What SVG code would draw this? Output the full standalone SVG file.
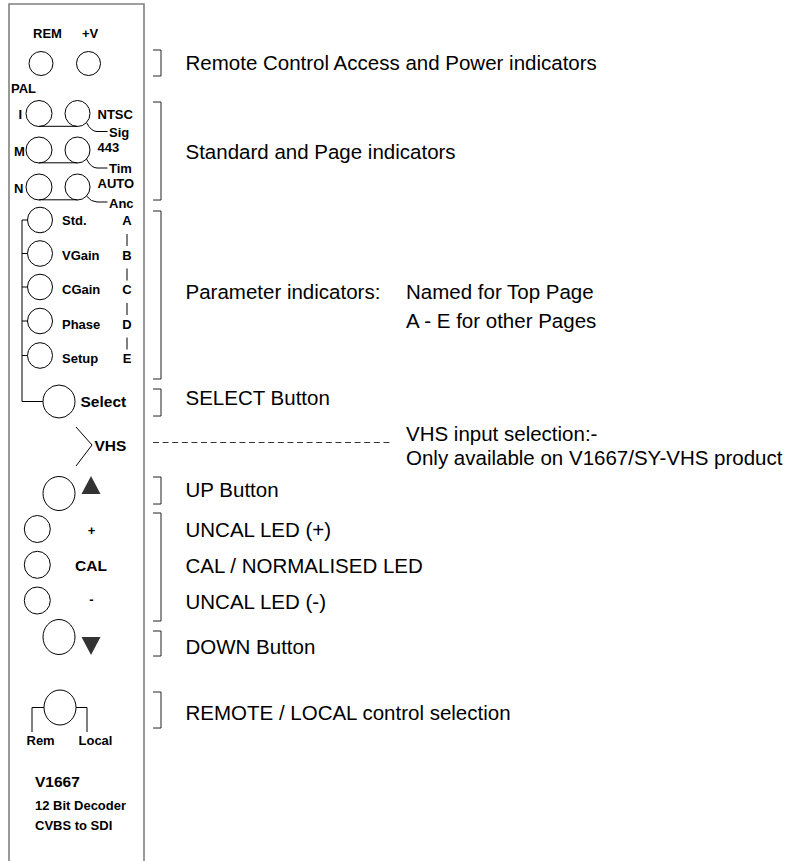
<svg xmlns="http://www.w3.org/2000/svg" width="785" height="861" viewBox="0 0 785 861">
<style>
.bg{fill:#fff}
.panel{fill:none;stroke:#808080;stroke-width:1.6}
.led{fill:#fff;stroke:#000;stroke-width:1}
.ln{fill:none;stroke:#000;stroke-width:1}
.br{fill:none;stroke:#222;stroke-width:1}
.dash{fill:none;stroke:#333;stroke-width:1;stroke-dasharray:6 3.6}
.tri{fill:#333;stroke:none}
.b{font-family:"Liberation Sans",Arial,sans-serif;font-weight:bold;font-size:13px;fill:#000}
.bl{font-family:"Liberation Sans",Arial,sans-serif;font-weight:bold;font-size:15.5px;fill:#000}
.t{font-family:"Liberation Sans",Arial,sans-serif;font-size:20.5px;fill:#000}
.m{text-anchor:middle}
</style>
<rect class="bg" x="0" y="0" width="785" height="861"/>
<path id="panel" class="panel" d="M9,861 V4 H144 V861"/>

<g id="rem-pwr">
  <text class="b" x="33" y="38">REM</text>
  <text class="b" x="82" y="38">+V</text>
  <ellipse class="led" cx="41" cy="63.5" rx="12" ry="12"/>
  <ellipse class="led" cx="88.5" cy="63.5" rx="12" ry="12"/>
</g>

<g id="std-page">
  <text class="b" x="11" y="92.5">PAL</text>
  <ellipse class="led" cx="39" cy="113.5" rx="13" ry="13"/>
  <ellipse class="led" cx="77.5" cy="113.5" rx="12.5" ry="13"/>
  <text class="b" x="18.5" y="119">I</text>
  <text class="b" x="97.5" y="118.5">NTSC</text>
  <text class="b" x="109" y="137">Sig</text>
  <ellipse class="led" cx="39" cy="150" rx="13" ry="13"/>
  <ellipse class="led" cx="77.5" cy="150" rx="12.5" ry="13"/>
  <text class="b" x="14" y="156">M</text>
  <text class="b" x="97.5" y="152">443</text>
  <text class="b" x="109" y="173">Tim</text>
  <ellipse class="led" cx="39" cy="187" rx="13" ry="13"/>
  <ellipse class="led" cx="77.5" cy="187" rx="12.5" ry="13"/>
  <text class="b" x="14" y="193">N</text>
  <text class="b" x="97.5" y="188">AUTO</text>
  <text class="b" x="109" y="208">Anc</text>
</g>

<g id="params">
  <ellipse class="led" cx="40" cy="220" rx="12.5" ry="12.8"/>
  <ellipse class="led" cx="40" cy="253.5" rx="12.5" ry="12.8"/>
  <ellipse class="led" cx="40" cy="287" rx="12.5" ry="12.8"/>
  <ellipse class="led" cx="40" cy="321" rx="12.5" ry="12.8"/>
  <ellipse class="led" cx="40" cy="355.5" rx="12.5" ry="12.8"/>
  <text class="b" x="62" y="225">Std.</text>
  <text class="b" x="62" y="259.5">VGain</text>
  <text class="b" x="62" y="294">CGain</text>
  <text class="b" x="62" y="328.5">Phase</text>
  <text class="b" x="62" y="363">Setup</text>
  <text class="b m" x="127" y="225">A</text>
  <text class="b m" x="127" y="259.5">B</text>
  <text class="b m" x="127" y="294">C</text>
  <text class="b m" x="127" y="328.5">D</text>
  <text class="b m" x="127" y="363">E</text>
</g>

<g id="select">
  <ellipse class="led" cx="59" cy="401.5" rx="16" ry="16.5"/>
  <text class="bl" x="80.5" y="407">Select</text>
</g>

<g id="vhs">
  <text class="bl" x="94.5" y="451">VHS</text>
</g>

<g id="up">
  <ellipse class="led" cx="59" cy="493.5" rx="16" ry="17"/>
  <polygon class="tri" points="91,476 100.5,494 81.5,494"/>
</g>

<g id="cal">
  <ellipse class="led" cx="37.3" cy="529" rx="13" ry="13.5"/>
  <ellipse class="led" cx="37.3" cy="564.8" rx="13" ry="13.5"/>
  <ellipse class="led" cx="37.3" cy="600.5" rx="13" ry="13.5"/>
  <text class="b m" x="91.5" y="535">+</text>
  <text class="bl m" x="91" y="571">CAL</text>
  <text class="b m" x="91.3" y="603.5">-</text>
</g>

<g id="down">
  <ellipse class="led" cx="59" cy="637" rx="16" ry="17.5"/>
  <polygon class="tri" points="81.5,637 100.5,637 91,655"/>
</g>

<g id="rem-local">
  <ellipse class="led" cx="60" cy="707.5" rx="16" ry="17.5"/>
  <text class="b" x="26.5" y="745">Rem</text>
  <text class="b" x="78.5" y="745">Local</text>
</g>

<g id="product">
  <text class="bl" x="35" y="786.5">V1667</text>
  <text class="b" x="35" y="810">12 Bit Decoder</text>
  <text class="b" x="35" y="830">CVBS to SDI</text>
</g>

<g id="connectors">
  <path class="ln" d="M39,126.3 H77.5 M39,162.8 H77.5 M39,199.8 H77.5"/>
  <path class="ln" d="M86.5,122.5 Q91,131.5 97,131.5 H107.5"/>
  <path class="ln" d="M86.5,159 Q91,168 97,168 H107.5"/>
  <path class="ln" d="M86.5,196 Q91,202 97,202 H107.5"/>
  <path class="ln" d="M27.5,220 H22 V401.5 H43 M22,253.5 H27.5 M22,287 H27.5 M22,321 H27.5 M22,355.5 H27.5"/>
  <path class="ln" d="M127,234 V246 M127,268.5 V280.5 M127,303 V315 M127,337.5 V349.5"/>
  <polyline class="ln" points="76,427 92,445 76,466"/>
  <path class="ln" d="M44,707.5 H32 V732 M76,707.5 H87 V732"/>
  <path class="br" d="M153,50 H161 V76 H153"/>
  <path class="br" d="M153,102 H161 V200 H153"/>
  <path class="br" d="M153,211 H161 V379 H153"/>
  <path class="br" d="M153,389 H161 V416 H153"/>
  <path class="br" d="M153,477 H161 V504 H153"/>
  <path class="br" d="M153,513 H161 V621 H153"/>
  <path class="br" d="M153,631 H161 V656 H153"/>
  <path class="br" d="M153,692 H161 V728 H153"/>
  <line class="dash" x1="153" y1="442.5" x2="391" y2="442.5"/>
</g>

<g id="labels">
  <text class="t" x="185.5" y="69.5">Remote Control Access and Power indicators</text>
  <text class="t" x="185.5" y="159">Standard and Page indicators</text>
  <text class="t" x="185.5" y="299">Parameter indicators:</text>
  <text class="t" x="406" y="299">Named for Top Page</text>
  <text class="t" x="406" y="328">A - E for other Pages</text>
  <text class="t" x="185.5" y="404.5">SELECT Button</text>
  <text class="t" x="406" y="441">VHS input selection:-</text>
  <text class="t" x="406" y="465">Only available on V1667/SY-VHS product</text>
  <text class="t" x="185.5" y="496.5">UP Button</text>
  <text class="t" x="185.5" y="537">UNCAL LED (+)</text>
  <text class="t" x="185.5" y="573">CAL / NORMALISED LED</text>
  <text class="t" x="185.5" y="609">UNCAL LED (-)</text>
  <text class="t" x="185.5" y="653.5">DOWN Button</text>
  <text class="t" x="185.5" y="719.5">REMOTE / LOCAL control selection</text>
</g>
</svg>
